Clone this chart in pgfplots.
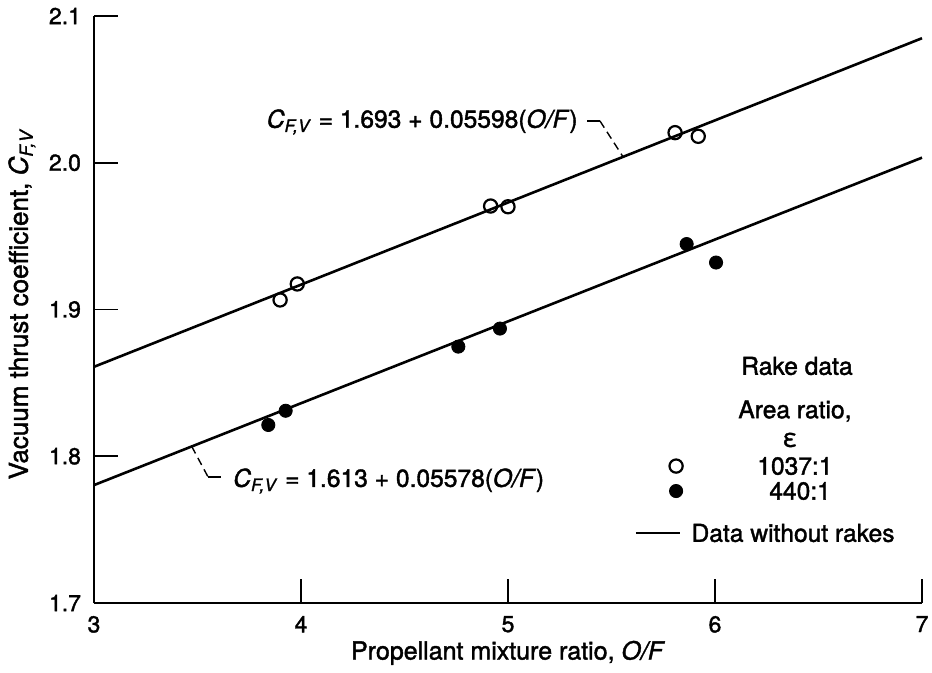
\documentclass[border=0pt]{standalone}
\usepackage{fontspec}
\setmainfont{TeX Gyre Heros}[FakeBold=1.6]
\usepackage{pgfplots}
\pgfplotsset{compat=1.18}
\newcommand{\CFV}{\textit{C}\textsubscript{\textit{F,V}}}
\begin{document}
\begin{tikzpicture}
\begin{axis}[
  scale only axis, width=414pt, height=293.5pt,
  xmin=3, xmax=7, ymin=1.7, ymax=2.1,
  axis x line*=bottom, axis y line*=left,
  axis line style={line width=1pt, -},
  tick align=inside, major tick length=12pt,
  tick style={line width=0.9pt, black},
  xtick={3,4,5,6,7}, ytick={1.7,1.8,1.9,2.0,2.1},
  yticklabel style={/pgf/number format/fixed, /pgf/number format/fixed zerofill, /pgf/number format/precision=1},
  /pgf/number format/assume math mode=true,
  ticklabel style={font=\fontsize{11.5}{13}\selectfont},
  xticklabel style={yshift=-3pt},
  yticklabel style={xshift=-3pt},
  label style={font=\fontsize{12.5}{14}\selectfont},
  xlabel={Propellant mixture ratio, \textit{O/F}},
  ylabel={Vacuum thrust coefficient, \CFV},
  xlabel style={at={(axis description cs:0.5,-0.085)}, anchor=center},
  ylabel style={at={(axis description cs:-0.087,0.51)}, anchor=center, font=\fontsize{13}{15}\selectfont},
  clip=false,
]
% fitted lines
\addplot[black, line width=1.3pt] coordinates {(3,1.86094) (7,2.08486)};
\addplot[black, line width=1.3pt] coordinates {(3,1.78034) (7,2.00346)};
% 1037:1 open circles
\addplot[only marks, mark=o, mark size=3.3pt, mark options={line width=1.1pt, fill=white, draw=black}]
  coordinates {(3.899,1.9065) (3.982,1.9174) (4.916,1.9705) (5.000,1.9700) (5.807,2.0205) (5.919,2.0180)};
% 440:1 filled circles
\addplot[only marks, mark=*, mark size=3.3pt, mark options={fill=black, draw=black}]
  coordinates {(3.842,1.8213) (3.926,1.8310) (4.760,1.8747) (4.961,1.8870) (5.863,1.9446) (6.005,1.9320)};
% legend symbols
\addplot[only marks, mark=o, mark size=3.3pt, mark options={line width=1.1pt, fill=white, draw=black}]
  coordinates {(5.812,1.7933)};
\addplot[only marks, mark=*, mark size=3.3pt, mark options={fill=black, draw=black}]
  coordinates {(5.812,1.7763)};
\addplot[black, line width=1.3pt] coordinates {(5.618,1.7477) (5.831,1.7477)};

% annotations
\node[anchor=east, font=\fontsize{12.3}{14}\selectfont, inner sep=0pt] at (axis cs:5.338,2.0278)
  {\CFV\ = 1.693 + 0.05598(\textit{O/F})};
\draw[line width=0.7pt] (axis cs:5.382,2.0285) -- (axis cs:5.444,2.0285);
\draw[line width=0.7pt, dash pattern=on 4pt off 2.5pt] (axis cs:5.444,2.0285) -- (axis cs:5.556,2.0040);

\node[anchor=west, font=\fontsize{12.3}{14}\selectfont, inner sep=0pt] at (axis cs:3.671,1.7831)
  {\CFV\ = 1.613 + 0.05578(\textit{O/F})};
\draw[line width=0.7pt, dash pattern=on 4pt off 2.5pt] (axis cs:3.472,1.8067) -- (axis cs:3.551,1.7859);
\draw[line width=0.7pt] (axis cs:3.551,1.7859) -- (axis cs:3.614,1.7859);

% legend text
\begin{scope}[every node/.style={font=\fontsize{12.3}{14}\selectfont, anchor=center, inner sep=0pt}]
\node at (axis cs:6.396,1.8615) {Rake data};
\node at (axis cs:6.386,1.8308) {Area ratio,};
\node at (axis cs:6.362,1.8111) {ε};
\node at (axis cs:6.386,1.7933) {1037:1};
\node at (axis cs:6.411,1.7763) {440:1};
\node at (axis cs:6.377,1.7477) {Data without rakes};
\end{scope}

\coordinate (sw) at (rel axis cs:0,0);
\coordinate (ne) at (rel axis cs:1,1);
\end{axis}
\pgfresetboundingbox
\path ([shift={(-47pt,-34.5pt)}]sw) rectangle ([shift={(5pt,8pt)}]ne);
\end{tikzpicture}
\end{document}
